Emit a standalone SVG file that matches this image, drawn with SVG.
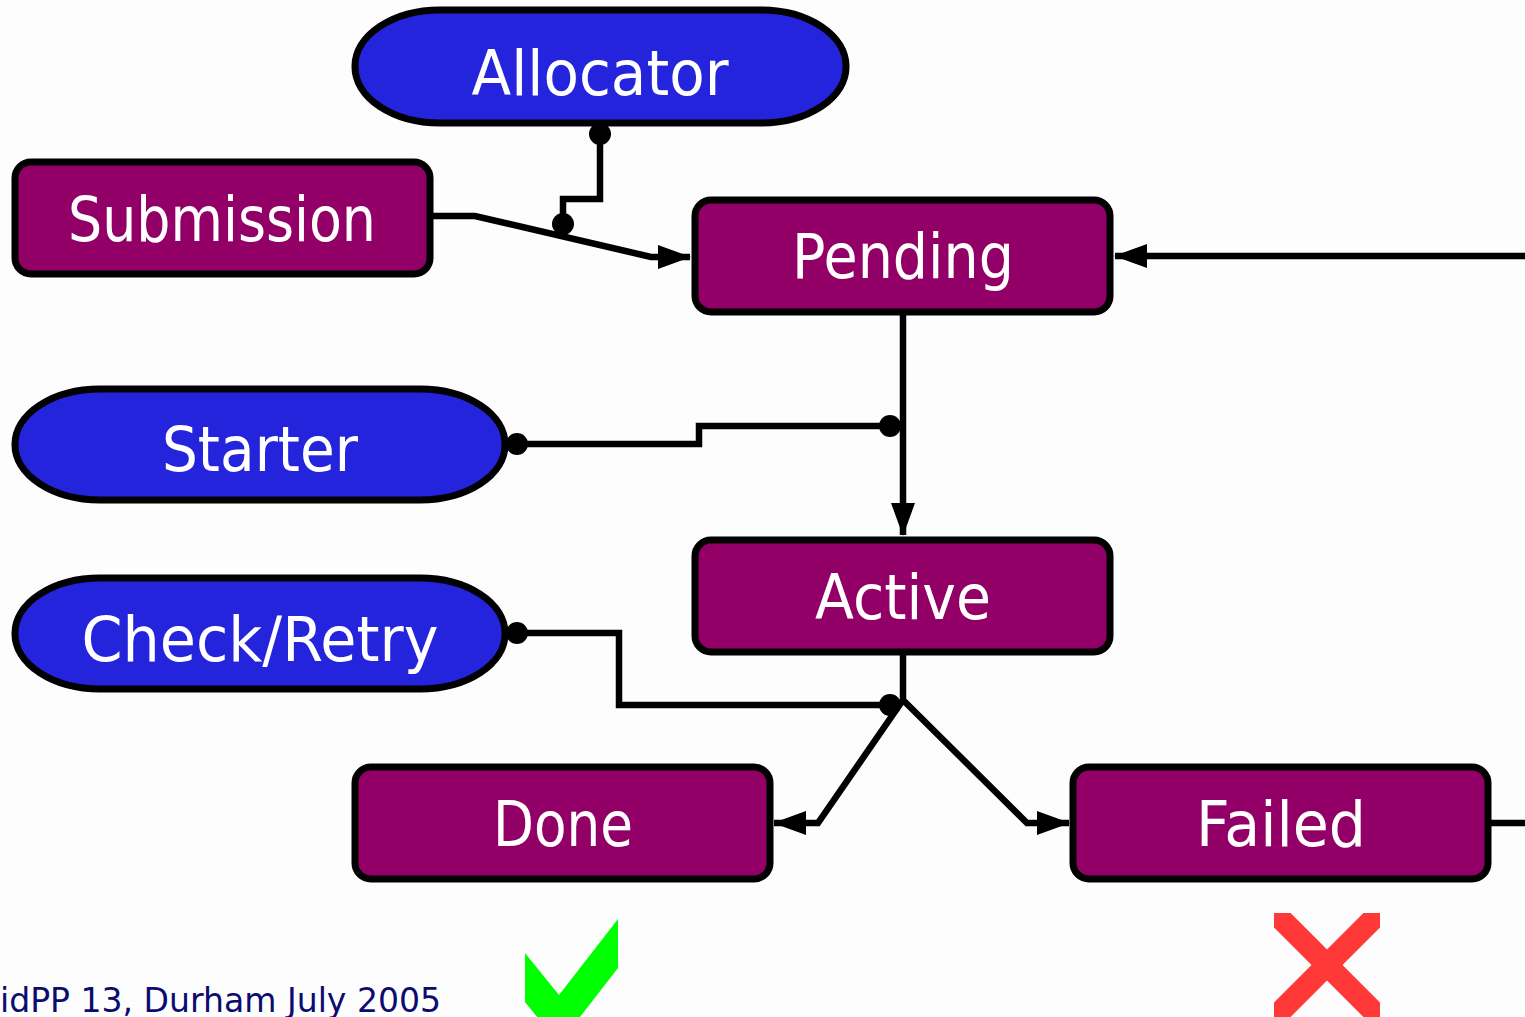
<svg xmlns="http://www.w3.org/2000/svg" width="1525" height="1017" viewBox="0 0 1525 1017">
<style>
.proc{fill:#920067;stroke:#000;stroke-width:7}
.agent{fill:#2424DC;stroke:#000;stroke-width:7}
.lbl{fill:#fff;font-family:"DejaVu Sans","Liberation Sans",sans-serif;font-size:62px;text-anchor:middle}
.ln{fill:none;stroke:#000;stroke-width:6.5;stroke-linejoin:miter}
.dot{fill:#000}
</style>
<defs>
<marker id="arr" markerUnits="userSpaceOnUse" markerWidth="34" markerHeight="26" refX="32" refY="13" orient="auto" viewBox="0 0 34 26" overflow="visible">
<path d="M0,1 L33,13 L0,25 Z" fill="#000"/>
</marker>
<clipPath id="xclip"><rect x="1274" y="913" width="106" height="110"/></clipPath>
</defs>
<rect width="1525" height="1017" fill="#FDFDFD"/>
<g id="connectors">
<path class="ln" d="M431,216 L475,216 L651,257 L690,257" marker-end="url(#arr)"/>
<path class="ln" d="M600,134 L600,199 L563,199 L563,224"/>
<path class="ln" d="M903,313 L903,535" marker-end="url(#arr)"/>
<path class="ln" d="M517,444 L699,444 L699,426 L890,426"/>
<path class="ln" d="M1525,256 L1115,256" marker-end="url(#arr)"/>
<path class="ln" d="M903,653 L903,700"/>
<path class="ln" d="M903,700 L818,823 L774,823" marker-end="url(#arr)"/>
<path class="ln" d="M903,700 L1027,823 L1069,823" marker-end="url(#arr)"/>
<path class="ln" d="M517,633 L619,633 L619,705 L890,705"/>
<path class="ln" d="M1489,823 L1525,823"/>
<circle class="dot" cx="600" cy="134" r="11"/>
<circle class="dot" cx="563" cy="224" r="11"/>
<circle class="dot" cx="517" cy="444" r="11"/>
<circle class="dot" cx="890" cy="426" r="11"/>
<circle class="dot" cx="517" cy="633" r="11"/>
<circle class="dot" cx="890" cy="705" r="11"/>
</g>
<g id="allocator">
<rect class="agent" x="355" y="10" width="491" height="113" rx="85" ry="56"/>
<text class="lbl" x="600" y="95" textLength="257" lengthAdjust="spacingAndGlyphs">Allocator</text>
</g>
<g id="submission">
<rect class="proc" x="15" y="162" width="415" height="112" rx="16"/>
<text class="lbl" x="222" y="241" textLength="308" lengthAdjust="spacingAndGlyphs">Submission</text>
</g>
<g id="pending">
<rect class="proc" x="695" y="200" width="415" height="112" rx="16"/>
<text class="lbl" x="903" y="278" textLength="222" lengthAdjust="spacingAndGlyphs">Pending</text>
</g>
<g id="starter">
<rect class="agent" x="15" y="389" width="490" height="111" rx="85" ry="55"/>
<text class="lbl" x="260" y="471" textLength="196" lengthAdjust="spacingAndGlyphs">Starter</text>
</g>
<g id="active">
<rect class="proc" x="695" y="540" width="415" height="112" rx="16"/>
<text class="lbl" x="903" y="619" textLength="176" lengthAdjust="spacingAndGlyphs">Active</text>
</g>
<g id="checkretry">
<rect class="agent" x="15" y="578" width="490" height="111" rx="85" ry="55"/>
<text class="lbl" x="260" y="661" textLength="357" lengthAdjust="spacingAndGlyphs">Check/Retry</text>
</g>
<g id="done">
<rect class="proc" x="355" y="767" width="415" height="112" rx="16"/>
<text class="lbl" x="563" y="846" textLength="140" lengthAdjust="spacingAndGlyphs">Done</text>
</g>
<g id="failed">
<rect class="proc" x="1073" y="767" width="415" height="112" rx="16"/>
<text class="lbl" x="1281" y="846" textLength="170" lengthAdjust="spacingAndGlyphs">Failed</text>
</g>
<g id="tick">
<polygon points="525,953 559,995 618,919 618,968 559,1044 525,1002" fill="#00FF00"/>
</g>
<g id="cross" clip-path="url(#xclip)">
<line x1="1250" y1="888" x2="1410" y2="1048" stroke="#FF3838" stroke-width="22"/>
<line x1="1410" y1="882" x2="1250" y2="1042" stroke="#FF3838" stroke-width="22"/>
</g>
<text x="0" y="1012" font-family="DejaVu Sans,Liberation Sans,sans-serif" font-size="34" fill="#0B0B70" textLength="441" lengthAdjust="spacingAndGlyphs">idPP 13, Durham July 2005</text>
</svg>
